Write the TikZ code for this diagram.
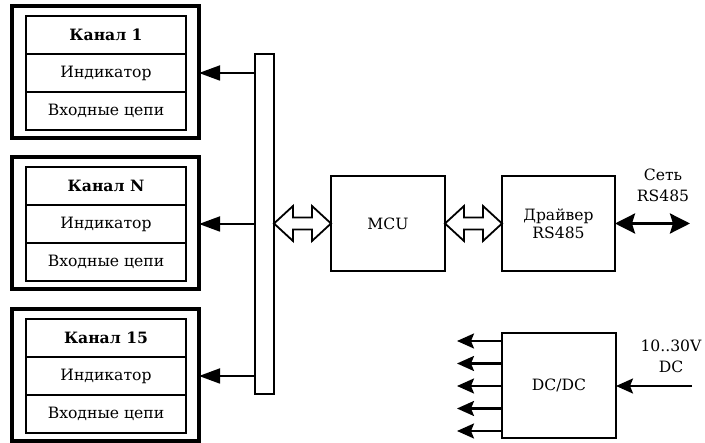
\documentclass[tikz,border=0pt]{standalone}
\usepackage{fontspec}
\setmainfont{DejaVu Serif}
\usetikzlibrary{arrows.meta,calc}
\newcommand{\hollowdbl}[2]{%
  \draw[hollowarrow] (#1) -- ($(#1)+(19,17.5)$) -- ($(#1)+(19,6)$) -- ($(#2)+(-19,6)$)
   -- ($(#2)+(-19,17.5)$) -- (#2) -- ($(#2)+(-19,-17.5)$) -- ($(#2)+(-19,-6)$)
   -- ($(#1)+(19,-6)$) -- ($(#1)+(19,-17.5)$) -- cycle;}
\begin{document}
\begin{tikzpicture}[x=1pt,y=-1pt,
  txt/.style={font=\fontsize{15.6}{21}\selectfont},
  outerbox/.style={draw,line width=3.5pt,minimum width=187pt,minimum height=132pt,anchor=north west,inner sep=0pt,outer sep=0pt},
  rowbox/.style={draw,line width=1.8pt,minimum width=160pt,minimum height=38pt,anchor=north west,inner sep=0pt,outer sep=0pt,txt},
  block/.style={draw,line width=2.4pt,inner sep=0pt,outer sep=0pt,align=center,txt},
  thinarrow/.style={line width=1.8pt,-{Triangle[length=21pt,width=15pt]}},
  dcarrow/.style={line width=2.2pt,-{Stealth[length=17pt,width=15pt,inset=3pt]}},
  netarrow/.style={line width=2.8pt,{Stealth[length=20pt,width=20pt,inset=3pt]}-{Stealth[length=20pt,width=20pt,inset=3pt]}},
  hollowarrow/.style={draw,line width=1.8pt,fill=white,line join=miter}]
\useasboundingbox (0,0) rectangle (705,443);
% bus
\node[draw,line width=1.8pt,minimum width=19pt,minimum height=340pt,anchor=north west,inner sep=0pt,outer sep=0pt] (bus) at (255,54) {};
% channels
\foreach \t/\y/\n in {{Канал 1}/6/a, {Канал N}/157/b, {Канал 15}/309/c}{
  \node[outerbox] (\n) at (12,\y) {};
  \node[rowbox] (\n1) at (26,\y+10) {\bfseries \t};
  \node[rowbox] (\n2) at (26,\y+48) {Индикатор};
  \node[rowbox] (\n3) at (26,\y+86) {Входные цепи};
  \draw[thinarrow] (bus.west |- \n2) -- (\n.east |- \n2);
}
% MCU and driver
\node[block,minimum width=114pt,minimum height=95pt] (mcu) at (388,223.5) {MCU};
\node[block,minimum width=113pt,minimum height=95pt] (drv) at (558.5,223.5) {Драйвер\\[-3pt]RS485};
\hollowdbl{bus.east |- mcu.west}{mcu.west}
\hollowdbl{mcu.east}{drv.west}
% network
\coordinate (net) at (690,223.5);
\draw[netarrow] (drv.east) -- (net);
\node[txt,align=center] (netlbl) at (663,185) {Сеть\\RS485};
% DC/DC
\node[block,minimum width=114pt,minimum height=105pt] (dcdc) at (559,385.5) {DC/DC};
\coordinate (pin) at (692,386);
\draw[dcarrow] (pin) -- (dcdc.east |- pin);
\node[txt,align=center] (pinlbl) at (671,356) {10..30V\\DC};
\foreach \k/\yy in {1/341,2/363.5,3/386,4/408.5,5/431}{
  \coordinate (o\k) at (457,\yy);
  \draw[dcarrow] (dcdc.west |- o\k) -- (o\k);
}
\end{tikzpicture}
\end{document}
